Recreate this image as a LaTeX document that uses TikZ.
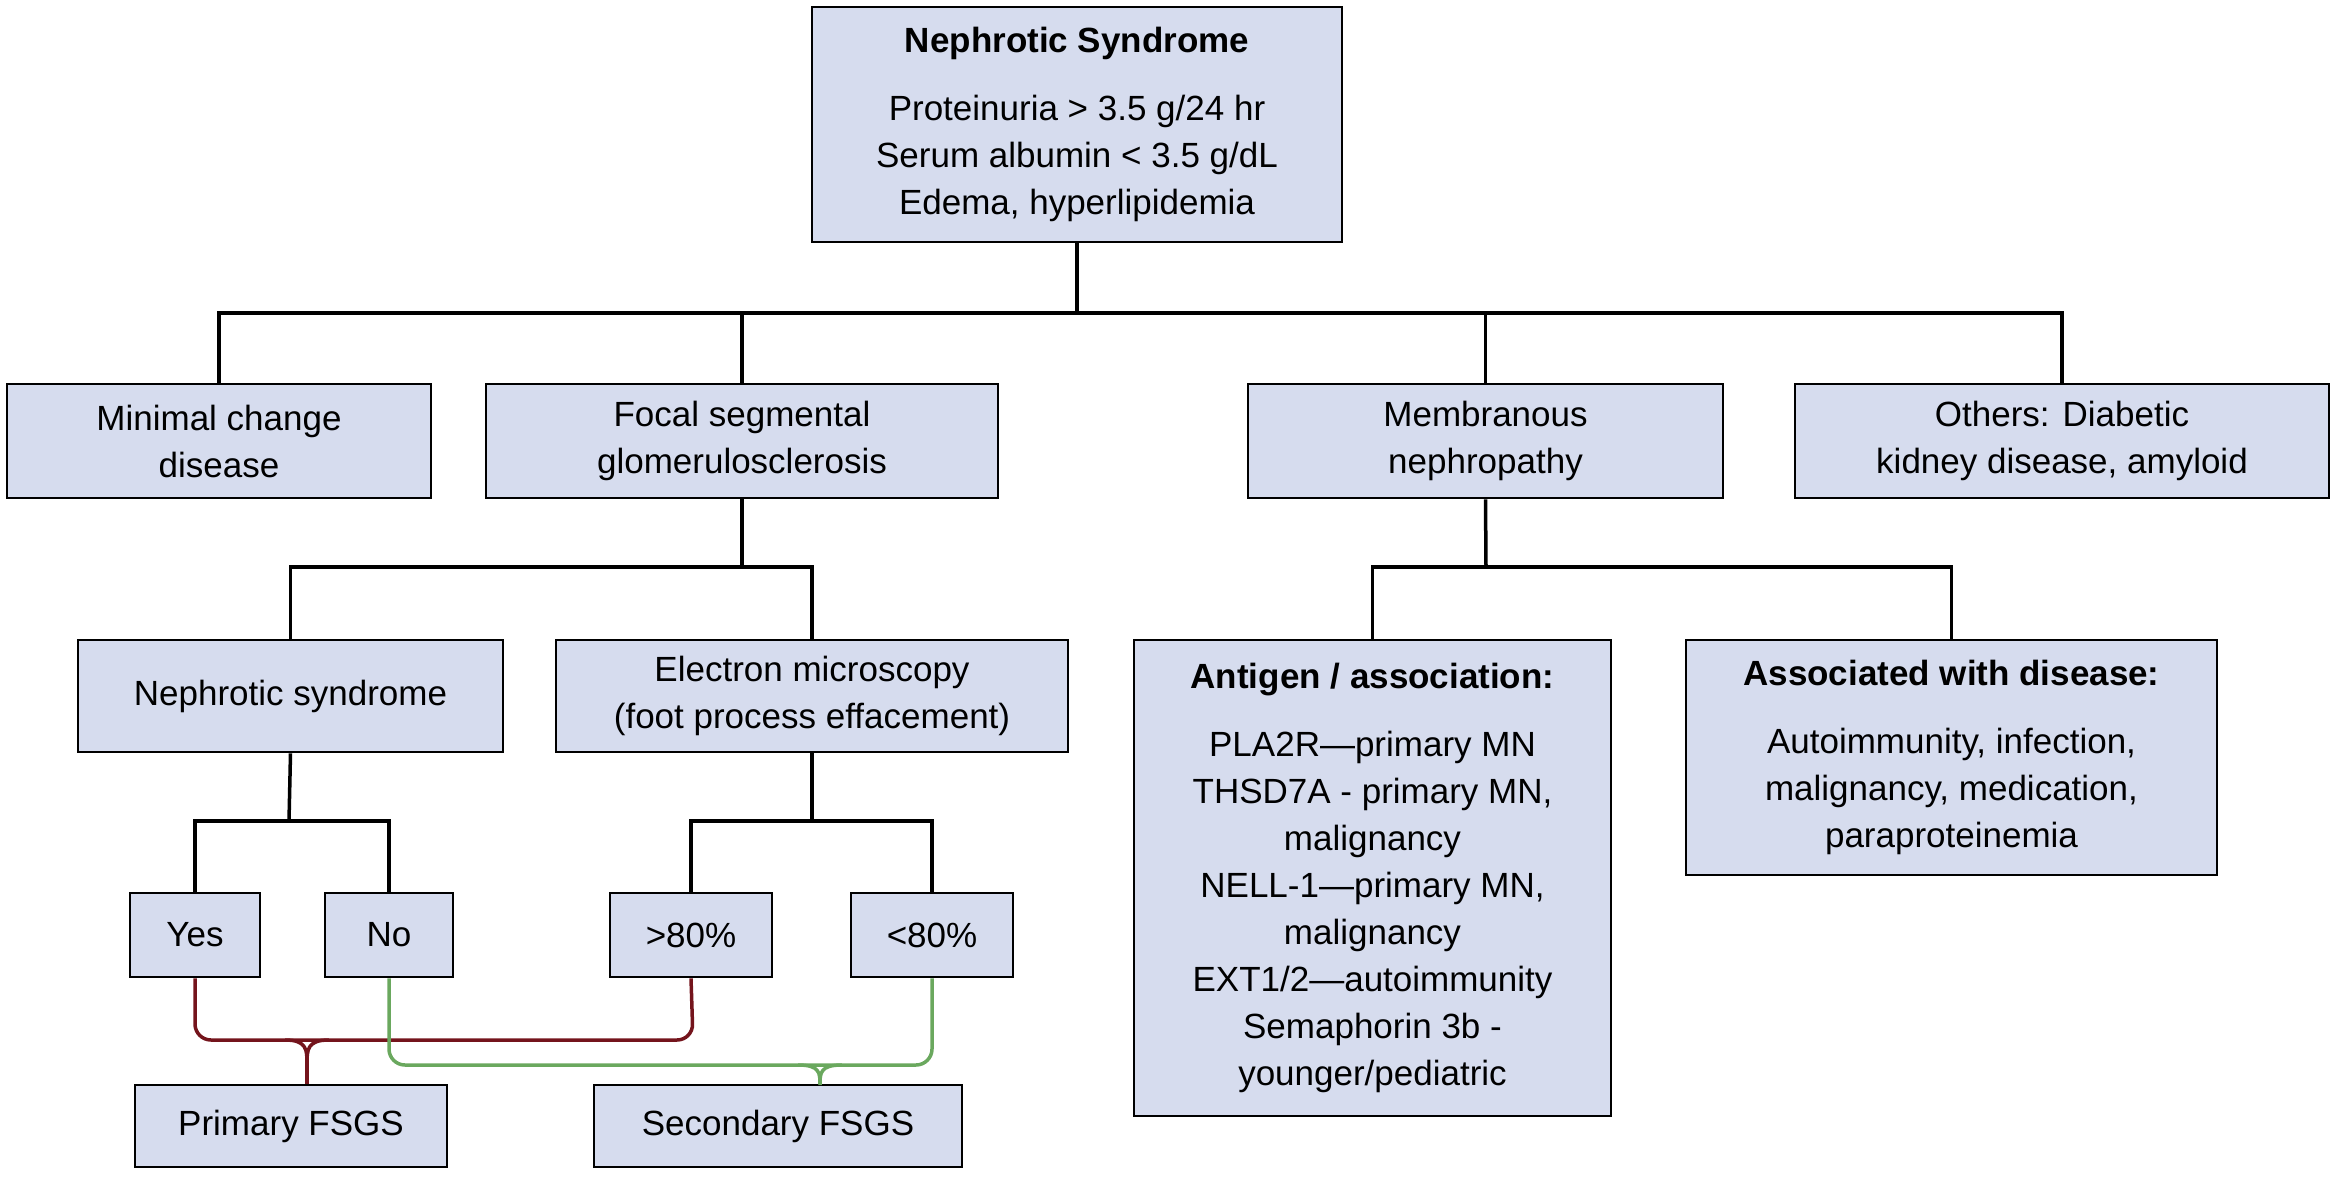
\documentclass[tikz,border=0pt]{standalone}
\usepackage{fontspec}
\setmainfont{Liberation Sans}
\begin{document}
\begin{tikzpicture}[x=1pt,y=-1pt,
 box/.style={draw=black,line width=2.6pt,fill=boxfill,inner sep=0pt,align=center,font=\fontsize{35}{47}\selectfont},
 ln/.style={line width=3.5pt},
 red/.style={line width=3.5pt,draw=myred,rounded corners=16pt},
 grn/.style={line width=3.5pt,draw=mygreen,rounded corners=16pt}]
\definecolor{boxfill}{HTML}{D6DCEE}
\definecolor{myred}{HTML}{74141C}
\definecolor{mygreen}{HTML}{6AA85E}
\useasboundingbox (0,0) rectangle (2337,1191);
\newcommand{\bx}[6]{\node[box,minimum width={#4-#2},minimum height={#5-#3}] (#1) at ({(#2+#4)/2},{(#3+#5)/2}) {#6};}
\bx{top}{812}{7}{1342}{242}{\textbf{Nephrotic Syndrome}\\[21pt]Proteinuria > 3.5 g/24 hr\\Serum albumin < 3.5 g/dL\\Edema, hyperlipidemia}
\bx{mcd}{7}{384}{431}{498}{Minimal change\\disease}
\bx{fsgs}{486}{384}{998}{498}{Focal segmental\\glomerulosclerosis}
\bx{mn}{1248}{384}{1723}{498}{Membranous\\nephropathy}
\bx{oth}{1795}{384}{2329}{498}{Others: Diabetic\\kidney disease, amyloid}
\bx{ns}{78}{640}{503}{752}{Nephrotic syndrome}
\bx{em}{556}{640}{1068}{752}{Electron microscopy\\(foot process effacement)}
\bx{ant}{1134}{640}{1611}{1116}{\textbf{Antigen / association:}\\[21pt]PLA2R---primary MN\\THSD7A - primary MN,\\malignancy\\NELL-1---primary MN,\\malignancy\\EXT1/2---autoimmunity\\Semaphorin 3b -\\younger/pediatric}
\bx{asd}{1686}{640}{2217}{875}{\textbf{Associated with disease:}\\[21pt]Autoimmunity, infection,\\malignancy, medication,\\paraproteinemia}
\bx{yes}{130}{893}{260}{977}{Yes}
\bx{no}{325}{893}{453}{977}{No}
\bx{gt}{610}{893}{772}{977}{>80\%}
\bx{lt}{851}{893}{1013}{977}{<80\%}
\bx{pri}{135}{1085}{447}{1167}{Primary FSGS}
\bx{sec}{594}{1085}{962}{1167}{Secondary FSGS}
% tree connectors
\draw[ln] (top.south) -- (1077,313);
\draw[ln] (mcd.north) |- (oth.north |- 0,313) -- (oth.north);
\draw[ln] (fsgs.north) -- (fsgs.north |- 0,313);
\draw[ln] (mn.north) -- (mn.north |- 0,313);
\draw[ln] (fsgs.south) -- (742,567);
\draw[ln] (ns.north) |- (em.north |- 0,567) -- (em.north);
\draw[ln] (mn.south) -- (1486,567);
\draw[ln] (ant.north) |- (asd.north |- 0,567) -- (asd.north);
\draw[ln] (ns.south) -- (289,821);
\draw[ln] (yes.north) |- (no.north |- 0,821) -- (no.north);
\draw[ln] (em.south) -- (812,821);
\draw[ln] (gt.north) |- (lt.north |- 0,821) -- (lt.north);
% colored connectors
\coordinate (rj) at (307,1040);
\coordinate (gj) at (820,1065);
\draw[red] (yes.south) |- (rj) -- (693,1040) -- (gt.south);
\draw[myred,line width=3.5pt] (285,1040) .. controls (307,1040) and (307,1050) .. (307,1064) .. controls (307,1050) and (307,1040) .. (329,1040);
\draw[myred,line width=3.5pt] (307,1062) -- (pri.north -| rj);
\draw[grn] (no.south) |- (gj) -- (932,1065) -- (lt.south);
\draw[mygreen,line width=3.5pt] (798,1065) .. controls (820,1065) and (820,1073) .. (820,1085) .. controls (820,1073) and (820,1065) .. (842,1065);
\end{tikzpicture}
\end{document}
